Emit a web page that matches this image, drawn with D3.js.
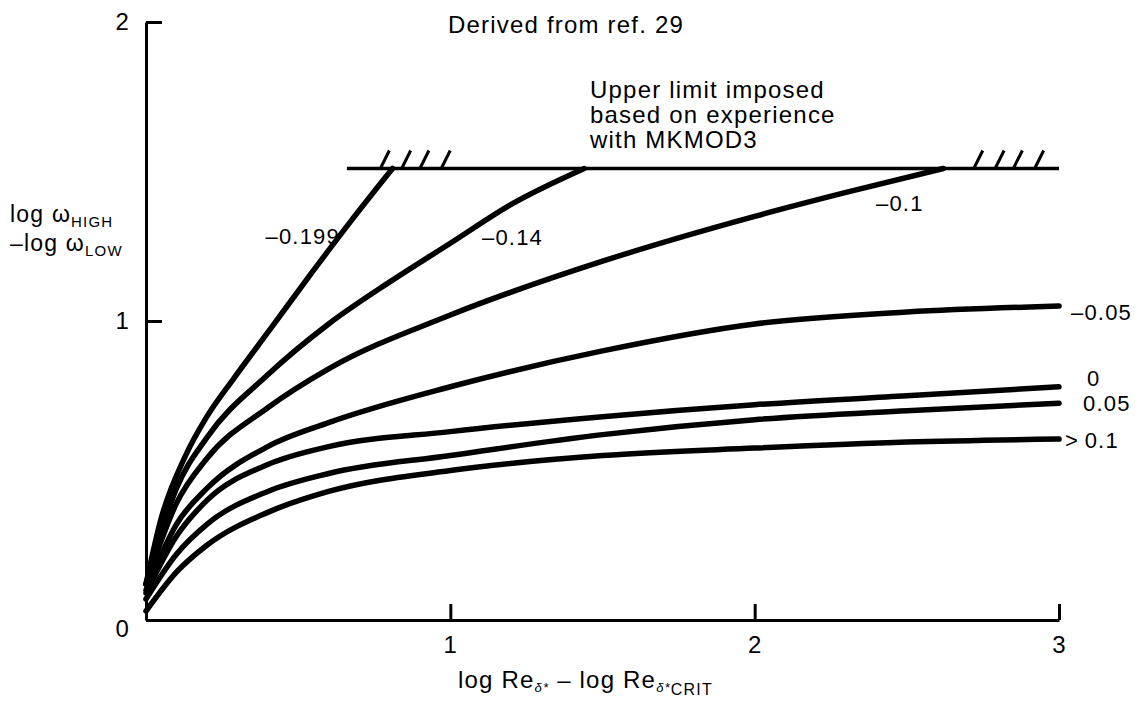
<!DOCTYPE html>
<html>
<head>
<meta charset="utf-8">
<script src="https://cdn.jsdelivr.net/npm/d3@7"></script>
<style>
  body { margin: 0; background: #fff; }
  svg text { font-family: "Liberation Sans", Arial, sans-serif; fill: #000; letter-spacing: 1.2px; }
  .axis path, .axis line { stroke: #000; stroke-width: 3; }
  .axis text { font-size: 24px; }
  .curve { fill: none; stroke: #000; stroke-width: 5.5; stroke-linecap: round; }
</style>
</head>
<body>
<svg width="1141" height="706"></svg>
<script>
// curve parameter labels (as printed on the chart)
var curveNames = ["\u20130.199", "\u20130.14", "\u20130.1", "\u20130.05", "0", "0.05", ">\u20090.1"];

// x = log Re - log Re_crit, y = log w_high - log w_low
var curve199 = [[0, 0.12], [0.05, 0.34], [0.13, 0.55], [0.2, 0.68], [0.29, 0.81], [0.41, 0.975], [0.54, 1.155], [0.67, 1.33], [0.81, 1.51]];
var curve14  = [[0, 0.12], [0.1, 0.44], [0.2, 0.61], [0.4, 0.82], [0.6, 0.99], [0.8, 1.13], [1, 1.26], [1.2, 1.39], [1.44, 1.51]];
var curve10  = [[0, 0.12], [0.1, 0.39], [0.2, 0.54], [0.4, 0.71], [0.6, 0.84], [1, 1.02], [1.5, 1.2], [2, 1.35], [2.3, 1.43], [2.62, 1.51]];
var curve05  = [[0, 0.1], [0.1, 0.32], [0.2, 0.44], [0.4, 0.58], [0.6, 0.66], [1, 0.78], [1.5, 0.9], [2, 0.99], [2.5, 1.03], [3, 1.05]];
var curve00  = [[0, 0.09], [0.1, 0.28], [0.2, 0.4], [0.4, 0.52], [0.6, 0.58], [1, 0.63], [1.5, 0.68], [2, 0.72], [2.5, 0.75], [3, 0.78]];
var curveP05 = [[0, 0.07], [0.1, 0.22], [0.2, 0.32], [0.4, 0.43], [0.6, 0.49], [1, 0.55], [1.5, 0.62], [2, 0.67], [2.5, 0.7], [3, 0.725]];
var curveP10 = [[0, 0.03], [0.1, 0.16], [0.2, 0.25], [0.4, 0.36], [0.6, 0.43], [1, 0.5], [1.5, 0.55], [2, 0.575], [2.5, 0.595], [3, 0.605]];

var upperLimit = 1.51;
var limitStart = 0.66;
var hatchLeft = [0.77, 0.84, 0.9, 0.97];
var hatchRight = [2.72, 2.79, 2.85, 2.92];

var xTicks = [1, 2, 3];
var yTicks = [0, 1, 2];

var noteLines = ["Upper limit imposed", "based on experience", "with MKMOD3"];

var svg = d3.select("svg");

var xScale = d3.scaleLinear().domain([0, 3]).range([146, 1059]),
    yScale = d3.scaleLinear().domain([0, 2]).range([620, 22]);

var allCurves = [curve199, curve14, curve10, curve05, curve00, curveP05, curveP10];

var line = d3.line()
    .curve(d3.curveMonotoneX)
    .x(function(d) { return xScale(d[0]); })
    .y(function(d) { return yScale(d[1]); });

// axes
svg.append("g")
    .attr("class", "axis")
    .attr("transform", "translate(0," + yScale(0) + ")")
    .call(d3.axisBottom(xScale).tickValues(xTicks).tickFormat(d3.format("d"))
      .tickSizeInner(-16).tickSizeOuter(0).tickPadding(16))
    .call(function(g) { g.selectAll("text").attr("dy", "0.71em"); });

svg.append("g")
    .attr("class", "axis")
    .attr("transform", "translate(" + xScale(0) + ",0)")
    .call(d3.axisLeft(yScale).tickValues(yTicks).tickFormat(d3.format("d"))
      .tickSizeInner(-16).tickSizeOuter(0).tickPadding(16))
    .call(function(g) {
      g.selectAll(".tick").filter(function(d) { return d === 0; })
        .select("text").attr("dy", "0.7em");
    });

// upper limit line with hatching
svg.append("line")
    .attr("x1", xScale(limitStart)).attr("x2", xScale(3))
    .attr("y1", yScale(upperLimit)).attr("y2", yScale(upperLimit))
    .attr("stroke", "#000").attr("stroke-width", 3.5);

svg.selectAll(".hatch")
    .data(hatchLeft.concat(hatchRight))
    .enter().append("line")
      .attr("class", "hatch")
      .attr("x1", function(d) { return xScale(d); })
      .attr("y1", yScale(upperLimit))
      .attr("x2", function(d) { return xScale(d) + 9; })
      .attr("y2", yScale(upperLimit) - 18)
      .attr("stroke", "#000").attr("stroke-width", 3);

// curves
svg.selectAll(".curve")
    .data(allCurves)
    .enter().append("path")
      .attr("class", "curve")
      .attr("d", line);

// curve labels
var labelPos = [
  {x: 340, y: 244, anchor: "end"},
  {x: 482, y: 245, anchor: "start"},
  {x: 876, y: 211, anchor: "start"},
  {x: 1071, y: 320, anchor: "start"},
  {x: 1087, y: 386, anchor: "start"},
  {x: 1083, y: 411, anchor: "start"},
  {x: 1065, y: 448, anchor: "start"}
];
svg.selectAll(".clabel")
    .data(curveNames)
    .enter().append("text")
      .attr("class", "clabel")
      .attr("x", function(d, i) { return labelPos[i].x; })
      .attr("y", function(d, i) { return labelPos[i].y; })
      .attr("text-anchor", function(d, i) { return labelPos[i].anchor; })
      .style("font-size", "22px")
      .text(function(d) { return d; });

// annotations
svg.append("text")
    .attr("x", 684).attr("y", 33)
    .attr("text-anchor", "end")
    .style("font-size", "24px")
    .text("Derived from ref.  29");

var note = svg.append("text").attr("y", 98).style("font-size", "24px");
noteLines.forEach(function(t, i) {
  note.append("tspan").attr("x", 590).attr("dy", i ? 25 : 0).text(t);
});

// y axis title
var yt1 = svg.append("text").attr("x", 10).attr("y", 222).style("font-size", "23px");
yt1.append("tspan").text("log \u03c9");
yt1.append("tspan").attr("dy", 5).style("font-size", "15px").text("HIGH");
var yt2 = svg.append("text").attr("x", 10).attr("y", 251).style("font-size", "23px");
yt2.append("tspan").text("\u2013log \u03c9");
yt2.append("tspan").attr("dy", 5).style("font-size", "15px").text("LOW");

// x axis title
var xt = svg.append("text").attr("x", 458).attr("y", 688).style("font-size", "24px");
xt.append("tspan").text("log Re");
xt.append("tspan").attr("dy", 4).style("font-size", "13px").style("font-style", "italic").text("\u03b4*");
xt.append("tspan").attr("dy", -4).text(" \u2013 log Re");
xt.append("tspan").attr("dy", 4).style("font-size", "13px").style("font-style", "italic").text("\u03b4*");
xt.append("tspan").attr("dy", 3).style("font-size", "16px").text("CRIT");
</script>
</body>
</html>
